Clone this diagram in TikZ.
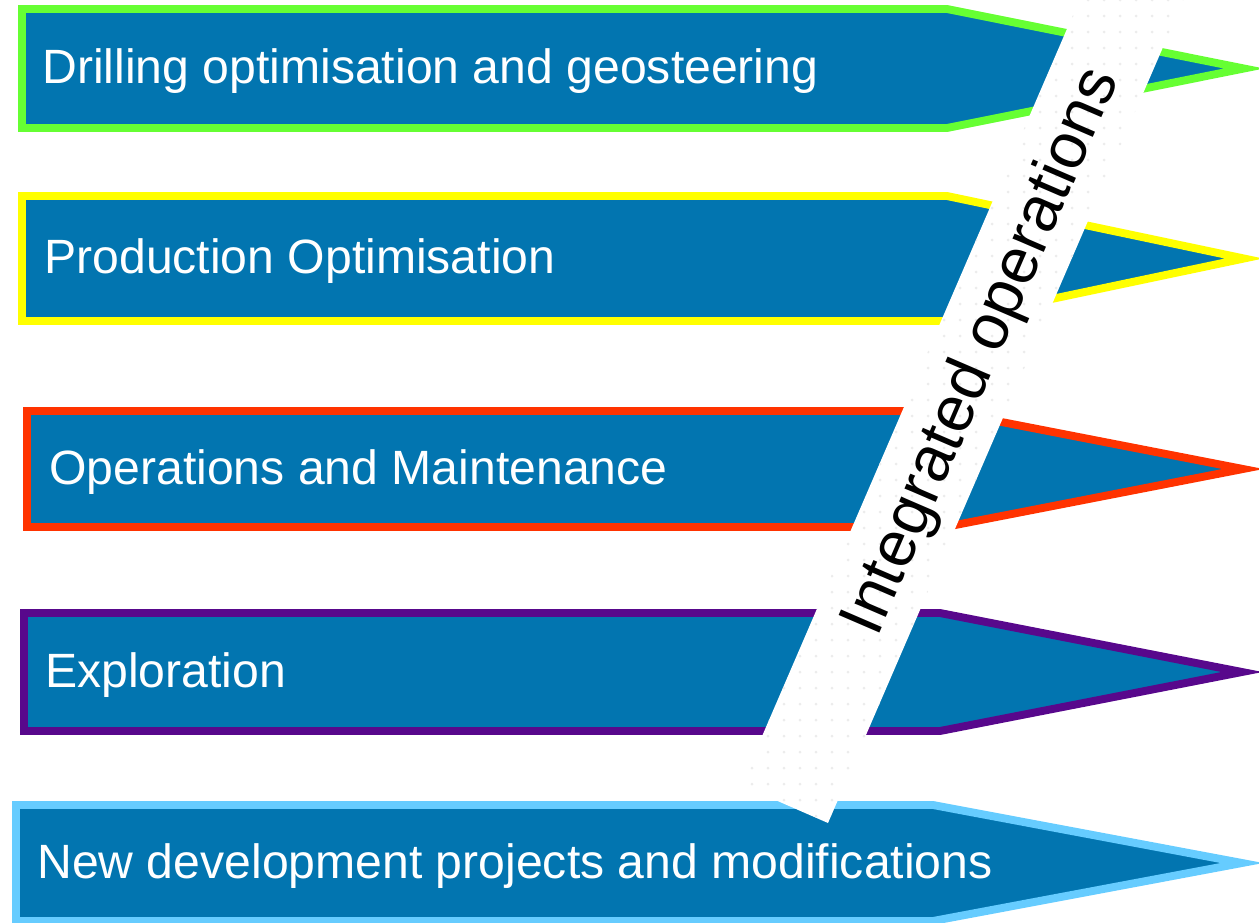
\documentclass[tikz,border=0pt]{standalone}
\usepackage{fontspec}
\setmainfont{Liberation Sans}
\definecolor{ioblue}{RGB}{2,117,176}
\definecolor{drillgreen}{RGB}{102,255,51}
\definecolor{prodyellow}{RGB}{255,255,0}
\definecolor{opsred}{RGB}{255,51,0}
\definecolor{explpurple}{RGB}{88,8,140}
\definecolor{devblue}{RGB}{102,204,255}
\definecolor{dotgrey}{RGB}{236,236,236}
\tikzset{
  flow/.style={fill=ioblue, line width=4.5pt, miter limit=10},
  flowtext/.style={anchor=base west, inner sep=0pt, text=white, font=\fontsize{27.4}{32}\selectfont},
  bandtext/.style={inner sep=0pt, rotate=66.67, font=\fontsize{36.7}{44}\selectfont}
}
\begin{document}
\begin{tikzpicture}[x=0.02cm, y=-0.02cm]
\useasboundingbox (0,0) rectangle (1259,923);
\clip (0,0) rectangle (1259,923);
% the five work processes
\draw[flow, draw=drillgreen] (22,9) -- (947,9) -- (1244,68.5) -- (947,128) -- (22,128) -- cycle;
\draw[flow, draw=prodyellow] (22,196) -- (947,196) -- (1244,258.5) -- (947,321) -- (22,321) -- cycle;
\draw[flow, draw=opsred] (27,411) -- (945,411) -- (1243,469) -- (945,527) -- (27,527) -- cycle;
\draw[flow, draw=explpurple] (24,613) -- (940,613) -- (1242,672) -- (940,731) -- (24,731) -- cycle;
\draw[flow, draw=devblue] (16,805) -- (933,805) -- (1242,863) -- (933,921) -- (16,921) -- cycle;
\node[flowtext] (drill) at (42,83.5) {Drilling optimisation and geosteering};
\node[flowtext] (prod) at (44,273.5) {Production Optimisation};
\node[flowtext] (opsmaint) at (49,484) {Operations and Maintenance};
\node[flowtext] (explor) at (45,687) {Exploration};
\node[flowtext] (newdev) at (37,878) {New development projects and modifications};
% the band across them
\begin{scope}
\clip (741,785) -- (828,823) -- (1205,-50) -- (1101,-50) -- cycle;
\fill[white] (700,-60) rectangle (1259,860);
\foreach \px in {736,752,...,1216}
  \foreach \py in {-48,-32,...,832}
    \fill[dotgrey] (\px,\py) circle (1.5);
\end{scope}
\node[bandtext] (integrated) at (983,352) {Integrated operations};
\end{tikzpicture}
\end{document}
